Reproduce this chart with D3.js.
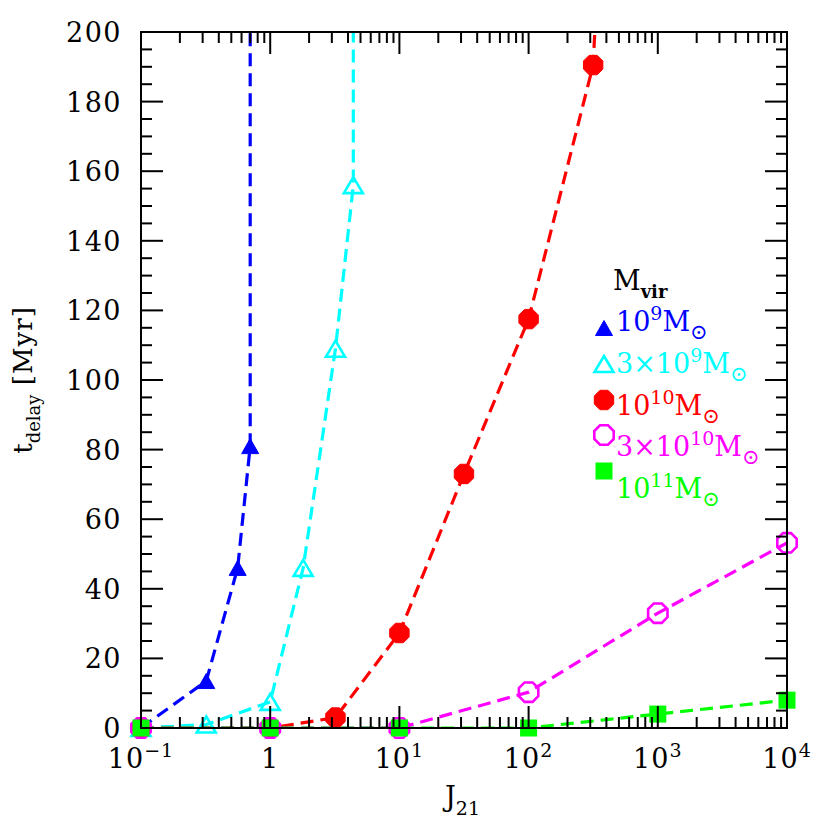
<!DOCTYPE html>
<html><head><meta charset="utf-8">
<script src="https://cdn.jsdelivr.net/npm/d3@7"></script>
<style>body{margin:0;background:#fff}svg{display:block}</style>
</head><body>
<script>
// ---- data ----
const j_1e9   = [0.1, 0.32, 0.56, 0.70, 0.70];
const t_1e9   = [0, 13.5, 46, 81, 400];
const j_3e9   = [0.1, 0.32, 1.0, 1.8, 3.2, 4.4, 4.4];
const t_3e9   = [0, 1, 7.5, 46, 109, 156, 400];
const j_1e10  = [0.1, 1, 3.2, 10, 31.6, 100, 316, 1000];
const t_1e10  = [0, 0, 3, 27.3, 73, 117.5, 190.5, 570];
const j_3e10  = [0.1, 1, 10, 100, 1000, 10000];
const t_3e10  = [0, 0, 0, 10.3, 33, 53.2];
const j_1e11  = [0.1, 1, 10, 100, 1000, 10000];
const t_1e11  = [0, 0, 0, 0, 4, 8];
const xTickExp = [-1, 0, 1, 2, 3, 4];
const yTicks = [0, 20, 40, 60, 80, 100, 120, 140, 160, 180, 200];

const W = 830, H = 830;
const L = 141, R = 787, T = 32, B = 728;
const svg = d3.select("body").append("svg").attr("width", W).attr("height", H);
const x = d3.scaleLog().domain([0.1, 1e4]).range([L, R]);
const y = d3.scaleLinear().domain([0, 200]).range([B, T]);
const FONT = "DejaVu Serif";

const series = [
  {j: j_1e9, t: t_1e9, color: "#0000ff", marker: "triF"},
  {j: j_3e9, t: t_3e9, color: "#00ffff", marker: "triO"},
  {j: j_1e10, t: t_1e10, color: "#ff0000", marker: "circF"},
  {j: j_3e10, t: t_3e10, color: "#ff00ff", marker: "circO"},
  {j: j_1e11, t: t_1e11, color: "#00ff00", marker: "sqF"}
];

svg.append("defs").append("clipPath").attr("id", "plotclip")
  .append("rect").attr("x", L).attr("y", T).attr("width", R - L).attr("height", B - T);

function drawMarker(g, type, cx, cy, color) {
  if (type === "triF" || type === "triO") {
    const w = type === "triF" ? 17 : 19, h = type === "triF" ? 15 : 16;
    g.append("path").attr("d", `M${cx},${cy - h / 2}L${cx + w / 2},${cy + h / 2}L${cx - w / 2},${cy + h / 2}Z`)
      .attr("fill", type === "triF" ? color : "none")
      .attr("stroke", color).attr("stroke-width", type === "triF" ? 1 : 2.6).attr("stroke-linejoin", "miter");
  } else if (type === "circF" || type === "circO") {
    const r = 10.5;
    const pts = d3.range(8).map(i => {
      const a = Math.PI / 8 + i * Math.PI / 4;
      return [cx + r * Math.cos(a), cy + r * Math.sin(a)];
    });
    g.append("path").attr("d", "M" + pts.join("L") + "Z")
      .attr("fill", type === "circF" ? color : "none")
      .attr("stroke", color).attr("stroke-width", type === "circF" ? 1 : 2.6);
  } else {
    const s = 17;
    g.append("rect").attr("x", cx - s / 2).attr("y", cy - s / 2).attr("width", s).attr("height", s)
      .attr("fill", color);
  }
}

// ---- lines & markers ----
const lineGen = d3.line().x(d => x(d[0])).y(d => y(d[1]));
series.forEach(s => {
  const pts = s.j.map((v, i) => [v, s.t[i]]);
  svg.append("path").attr("d", lineGen(pts)).attr("clip-path", "url(#plotclip)")
    .attr("fill", "none").attr("stroke", s.color).attr("stroke-width", 3.2)
    .attr("stroke-dasharray", "13,7");
});
series.forEach(s => {
  const g = svg.append("g");
  s.j.forEach((v, i) => {
    if (s.t[i] <= 200) drawMarker(g, s.marker, x(v), y(s.t[i]), s.color);
  });
});

// ---- frame & ticks ----
const ax = svg.append("g").attr("stroke", "#000").attr("stroke-width", 2);
ax.append("rect").attr("x", L).attr("y", T).attr("width", R - L).attr("height", B - T).attr("fill", "none");
const major = 22, minor = 11;
xTickExp.forEach((e, k) => {
  const v = Math.pow(10, e), px = x(v);
  ax.append("line").attr("x1", px).attr("x2", px).attr("y1", B).attr("y2", B - major);
  ax.append("line").attr("x1", px).attr("x2", px).attr("y1", T).attr("y2", T + major);
  if (k < xTickExp.length - 1) {
    for (let m = 2; m <= 9; m++) {
      const pm = x(m * v);
      ax.append("line").attr("x1", pm).attr("x2", pm).attr("y1", B).attr("y2", B - minor);
      ax.append("line").attr("x1", pm).attr("x2", pm).attr("y1", T).attr("y2", T + minor);
    }
  }
});
d3.range(0, 201, 5).forEach(v => {
  const len = v % 20 === 0 ? major : minor, py = y(v);
  ax.append("line").attr("x1", L).attr("x2", L + len).attr("y1", py).attr("y2", py);
  ax.append("line").attr("x1", R).attr("x2", R - len).attr("y1", py).attr("y2", py);
});

// ---- tick labels ----
const tickFont = 27;
yTicks.forEach(v => {
  svg.append("text").attr("x", 122).attr("y", y(v) + 10).attr("text-anchor", "end")
    .attr("font-family", FONT).attr("font-size", tickFont).attr("letter-spacing", 1.5)
    .attr("fill", "#000").text(v);
});
xTickExp.forEach(e => {
  const t = svg.append("text").attr("x", x(Math.pow(10, e))).attr("y", 768).attr("text-anchor", "middle")
    .attr("font-family", FONT).attr("font-size", tickFont).attr("letter-spacing", 1)
    .attr("fill", "#000");
  if (e === 0) { t.text("1"); return; }
  t.append("tspan").text("10");
  t.append("tspan").attr("dy", -11).attr("font-size", 19).text(e < 0 ? "\u2212" + (-e) : String(e));
});

// ---- axis titles ----
const xt = svg.append("text").attr("x", 445).attr("y", 806).attr("font-family", FONT)
  .attr("font-size", 27).attr("fill", "#000");
xt.append("tspan").text("J");
xt.append("tspan").attr("dy", 9).attr("font-size", 19).text("21");

const yt = svg.append("text").attr("transform", "translate(32,380) rotate(-90)").attr("text-anchor", "middle")
  .attr("font-family", FONT).attr("font-size", 26).attr("fill", "#000");
yt.append("tspan").text("t");
yt.append("tspan").attr("dy", 8).attr("font-size", 18).text("delay");
yt.append("tspan").attr("dy", -8).attr("letter-spacing", 1).text("  [Myr]");

// ---- legend ----
const lg = svg.append("text").attr("x", 613).attr("y", 290).attr("font-family", FONT)
  .attr("font-size", 27).attr("fill", "#000");
lg.append("tspan").text("M");
lg.append("tspan").attr("dy", 8).attr("font-size", 18).attr("font-weight", 600).text("vir");

const legendLabels = [
  {pre: "", base: "10", sup: "9"},
  {pre: "3\u00d7", base: "10", sup: "9"},
  {pre: "", base: "10", sup: "10"},
  {pre: "3\u00d7", base: "10", sup: "10"},
  {pre: "", base: "10", sup: "11"}
];
const markerY = [328, 364, 400, 435, 471];
const textY = [331, 373, 415, 456, 498];
series.forEach((s, i) => {
  const g = svg.append("g");
  drawMarker(g, s.marker, 604, markerY[i], s.color);
  const lb = legendLabels[i];
  const t = svg.append("text").attr("x", 616).attr("y", textY[i]).attr("font-family", FONT)
    .attr("font-size", 27).attr("fill", s.color);
  t.append("tspan").text(lb.pre + lb.base);
  t.append("tspan").attr("dy", -11).attr("font-size", 19).text(lb.sup);
  t.append("tspan").attr("dy", 11).text("M");
  t.append("tspan").attr("dy", 8).attr("font-size", 21).text("\u2299");
});
</script>
</body></html>
